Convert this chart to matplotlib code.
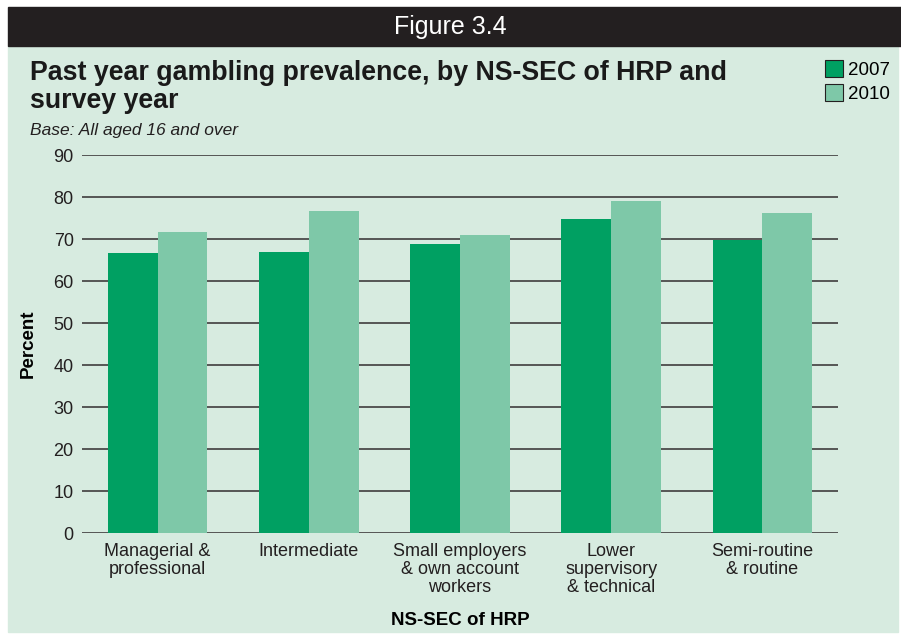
import matplotlib.pyplot as plt
import numpy as np
from matplotlib.patches import Rectangle

plt.rcParams['font.family'] = ['Liberation Sans', 'DejaVu Sans']

# Data
categories = [
    "Managerial &\nprofessional",
    "Intermediate",
    "Small employers\n& own account\nworkers",
    "Lower\nsupervisory\n& technical",
    "Semi-routine\n& routine",
]
years = ["2007", "2010"]
vals_2007 = [66.6, 66.8, 68.7, 74.7, 69.7]
vals_2010 = [71.6, 76.6, 70.9, 79.0, 76.1]

c2007 = "#00a062"
c2010 = "#7ec8a8"
bg = "#d7ebe0"
W, H = 901, 637

fig = plt.figure(figsize=(W / 100, H / 100), dpi=100)
fig.patch.set_facecolor("white")

# panel background + dark header band
fig.patches.append(Rectangle((8 / W, 1 - 632 / H), 890 / W, 586 / H,
                             transform=fig.transFigure, color=bg, zorder=-2))
fig.patches.append(Rectangle((8 / W, 1 - 46 / H), 893 / W, 39 / H,
                             transform=fig.transFigure, color="#231f20", zorder=-2))
fig.text(450 / W, 1 - 27 / H, "Figure 3.4", color="white", fontsize=18,
         ha="center", va="center")

fig.text(30 / W, 1 - 87 / H,
         "Past year gambling prevalence, by NS-SEC of HRP and\nsurvey year",
         fontsize=19.3, fontweight="heavy", ha="left", va="center",
         linespacing=1.15, color="#1a1a1a")
fig.text(30 / W, 1 - 131 / H, "Base: All aged 16 and over", fontsize=12.5,
         style="italic", ha="left", va="center", color="#231f20")

ax = fig.add_axes([82 / W, 1 - 533 / H, 756 / W, 378 / H], zorder=2)
ax.set_facecolor(bg)

x = np.arange(len(categories))
w = 0.33
ax.bar(x - w / 2, vals_2007, w, color=c2007, label="2007", zorder=3)
ax.bar(x + w / 2, vals_2010, w, color=c2010, label="2010", zorder=3)

ax.set_xlim(-0.5, len(categories) - 0.5)
ax.set_ylim(0, 90)
ax.set_yticks(range(0, 91, 10))
ax.yaxis.grid(True, color="#555555", linewidth=1.4, zorder=1)
ax.set_axisbelow(True)
for s in ax.spines.values():
    s.set_visible(False)
ax.tick_params(axis="both", length=0, labelsize=13, colors="#231f20")
ax.tick_params(axis="y", pad=6)
ax.set_xticks(x)
ax.set_xticklabels(categories, linespacing=1.1)
ax.tick_params(axis="x", pad=7)

ax.set_ylabel("Percent", fontsize=13.5, fontweight="bold", labelpad=12)
ax.set_xlabel("NS-SEC of HRP", fontsize=13.5, fontweight="bold", labelpad=11)

ax.legend(loc="upper left", bbox_to_anchor=(825 / W, 1 - 60 / H),
          bbox_transform=fig.transFigure, frameon=False, fontsize=13.5,
          handlelength=0.95, handleheight=1.0, handletextpad=0.3,
          labelspacing=0.3, borderpad=0, borderaxespad=0)
for p in ax.get_legend().get_patches():
    p.set_edgecolor("#231f20")
    p.set_linewidth(0.8)

fig.savefig("out.png", dpi=100, facecolor=fig.get_facecolor())
